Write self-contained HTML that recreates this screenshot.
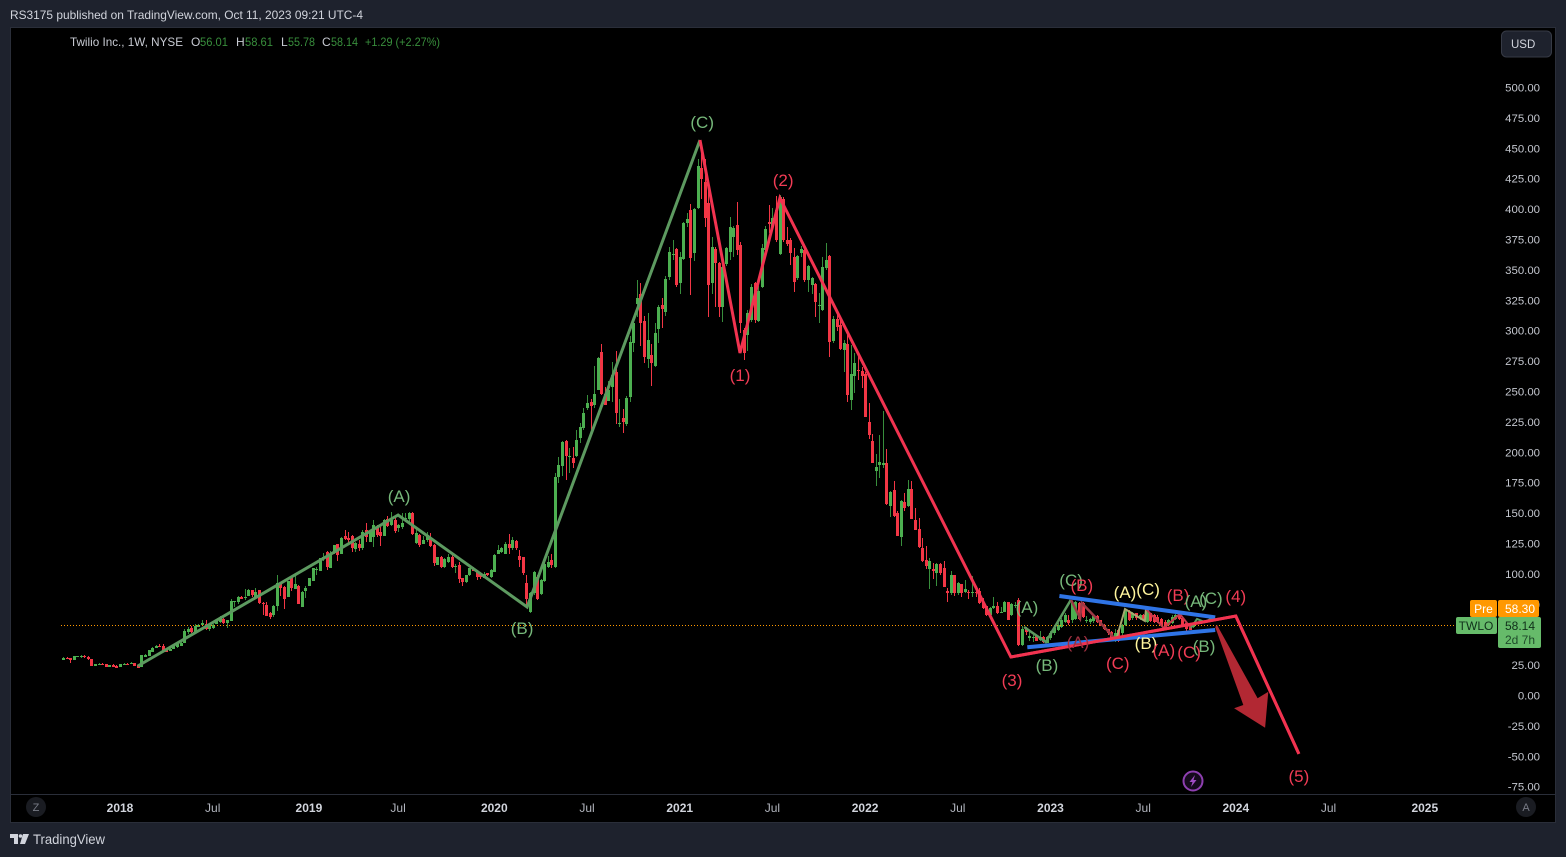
<!DOCTYPE html>
<html lang="en">
<head>
<meta charset="utf-8">
<title>Twilio Inc. 1W chart</title>
<style>
html,body{margin:0;padding:0;background:#1e222d;}
svg{display:block;font-family:"Liberation Sans",sans-serif;}
</style>
</head>
<body>
<svg id="chart" xmlns="http://www.w3.org/2000/svg" width="1566" height="857" viewBox="0 0 1566 857">
  <rect x="0" y="0" width="1566" height="857" fill="#1e222d"/>
  <text x="10" y="19" font-size="12" fill="#d1d4dc" textLength="353" lengthAdjust="spacingAndGlyphs">RS3175 published on TradingView.com, Oct 11, 2023 09:21 UTC-4</text>
  <rect x="10.5" y="27.5" width="1545" height="795" fill="#000000" stroke="#2a2e39" stroke-width="1"/>
  <line x1="11" y1="794.5" x2="1555" y2="794.5" stroke="#2a2e39" stroke-width="1"/>
  <g id="ticksY"></g>
  <g id="ticksX"></g>
  <g id="candlesLayer"></g>
  <g id="priceLineLayer"></g>
  <g id="wavesLayer"></g>
  <g id="labelsLayer"></g>

  <g font-size="12">
    <text x="70" y="46" fill="#c8cbd3" textLength="113" lengthAdjust="spacingAndGlyphs">Twilio Inc., 1W, NYSE</text>
    <text x="191" y="46" fill="#c8cbd3">O</text>
    <text x="200" y="46" fill="#388e3c" textLength="28" lengthAdjust="spacingAndGlyphs">56.01</text>
    <text x="236" y="46" fill="#c8cbd3">H</text>
    <text x="245" y="46" fill="#388e3c" textLength="28" lengthAdjust="spacingAndGlyphs">58.61</text>
    <text x="281" y="46" fill="#c8cbd3">L</text>
    <text x="288" y="46" fill="#388e3c" textLength="27" lengthAdjust="spacingAndGlyphs">55.78</text>
    <text x="322" y="46" fill="#c8cbd3">C</text>
    <text x="331" y="46" fill="#388e3c" textLength="27" lengthAdjust="spacingAndGlyphs">58.14</text>
    <text x="365" y="46" fill="#388e3c" textLength="75" lengthAdjust="spacingAndGlyphs">+1.29 (+2.27%)</text>
  </g>

  <g>
    <rect x="1501.5" y="31" width="50" height="26" rx="5" fill="#1e222d" stroke="#363a45"/>
    <text x="1511" y="48" font-size="11.5" fill="#d1d4dc">USD</text>
  </g>

  <g font-size="12">
    <rect x="1470" y="600" width="27" height="17" rx="2" fill="#ff9800"/>
    <text x="1483.5" y="613" fill="#ffffff" text-anchor="middle">Pre</text>
    <rect x="1498" y="600" width="41" height="17" rx="2" fill="#ff9800"/>
    <text x="1520" y="613" fill="#ffffff" text-anchor="middle">58.30</text>
    <rect x="1456" y="617" width="41" height="17" rx="2" fill="#66bb6a"/>
    <text x="1476" y="630" fill="#10301a" text-anchor="middle">TWLO</text>
    <rect x="1498" y="617" width="43" height="31" rx="2" fill="#66bb6a"/>
    <text x="1520" y="630" fill="#10301a" text-anchor="middle">58.14</text>
    <text x="1520" y="644" fill="#1f4a2a" text-anchor="middle">2d 7h</text>
  </g>

  <g>
    <circle cx="1193" cy="781" r="9.5" fill="#150a1c" stroke="#8e3fb0" stroke-width="2"/>
    <path d="M1195 775 L1189.5 782 L1192.5 782 L1191 787 L1196.5 780 L1193.5 780 Z" fill="#a04cc4"/>
  </g>

  <g>
    <circle cx="36" cy="807" r="10" fill="#1a1c22"/>
    <text x="36" y="811" font-size="11" fill="#787b86" text-anchor="middle">Z</text>
  </g>
  <g>
    <circle cx="1526" cy="807" r="10" fill="#1a1c22"/>
    <text x="1526" y="811" font-size="11" fill="#787b86" text-anchor="middle">A</text>
  </g>

  <g>
    <path d="M10 834 H18 V844 H14 V838 H10 Z M23 834 H29 L25 844 H20 Z" fill="#d1d4dc"/>
    <circle cx="20.5" cy="836" r="1.8" fill="#d1d4dc"/>
    <text x="33" y="844" font-size="13.5" fill="#d1d4dc" textLength="72" lengthAdjust="spacingAndGlyphs">TradingView</text>
  </g>
</svg>

<script>
// ---------- chart data (weekly OHLC) ----------
const firstWeek = -16;
const opens = [
29.6,31.2,30.6,29.6,32.1,32,32.8,32,30,24.3,
25.5,26.3,26,23.8,25.2,24.6,23.8,25.7,26.3,25.7,
26.5,25.2,23.8,32,32.8,35.9,39.4,40.8,40.8,38.3,
37,38.6,40.2,41,43.5,52.3,55.9,52.6,56.7,57.8,
58.6,55,55.3,58.9,60.8,63,60,61.6,77,77.2,
81,81,81.9,86.8,80.5,86.8,76.1,74.2,67.6,66.3,
73.9,91.8,89.6,81.3,97.2,87.9,90.1,73.1,86.3,90.4,
94.5,103.5,102.7,112,117.8,105.2,117,124.4,116.7,131.2,
129.3,131.2,120.5,125,121,136.1,126.5,130.6,138.8,134.7,
131.4,145.1,140.2,144.3,138,138.3,145,144.9,149.8,125.1,
132,125,127.9,129.2,123.8,107.6,114.2,105.4,110,113.6,
106.3,107.3,96.4,93.6,99.1,104.9,102.4,100.5,96.9,100.5,
97.7,101.8,116.4,117.7,116.4,124.6,121,127,114.7,113.6,
92.8,68.4,84,97.2,83.5,94.5,105.4,111.4,106,179.5,
189.1,209.4,196.5,195.7,197.3,212.1,220.3,236.8,241.7,238.9,
251.3,282.2,248,242.5,254,265.8,223.4,228.3,223.3,245.8,
289.6,322,330.2,308,276.8,280,271.3,301.4,321,315.7,
344.4,362.5,367.5,339,359,388.3,399.2,363.6,401.2,433.5,
422.5,404.7,339,366.9,355.4,319.8,354.9,365,377.3,386.9,
370.5,300.6,296.5,308.8,339,308.3,336.2,366.4,389.1,385.5,
399.2,363,408,375,374.6,360.9,343,364.2,366.4,341.7,
337.6,338.4,320.3,317,351.3,361.4,291.8,309.4,304.7,284.2,
289.1,243,263,267.7,267,264.4,224.7,209.4,185,189.6,
189.6,191.5,156.2,169,149.9,130.7,159.5,156.2,169.6,144.4,
137,121.7,111.5,104,103.9,100.6,108,105.2,86,84.1,
99.2,84.1,91.8,85.5,85,84.1,85.5,86.3,76,73.2,
66.3,71.8,73.2,68.5,69,76.7,65.8,73.2,78.5,41.5,
55,47,47.3,49,45.7,48.4,43.5,47,51.1,54,
56.6,60.7,62.1,62,62.6,76,75.8,62,60.7,61.3,
65.4,62,58,54.4,52.5,44.8,54,51.1,58,69,
63.5,67.6,63.5,66,60.7,67.6,66.2,64.8,62.6,60.7,
58,59.3,62.6,67,63.4,59.3,58,56.01];
const closes = [
31.2,30.4,29,32.6,32.3,32.4,31.5,29.8,24.3,26,
26.3,25.5,23.8,25.2,23.8,23,25.7,26.3,25.7,26.8,
24.6,23,33.1,33.4,37.5,39.1,41,40,36.1,36.1,
38.3,40.8,42.4,43.5,53.1,54.8,52.3,57.2,58,59.7,
54.5,57.8,58,61,63.8,59.4,61.9,77.8,77.8,80.8,
79.4,81.3,86.8,82.4,85.4,76.1,75.6,65.7,64.9,73.9,
92.3,88.7,79.7,94.2,88.5,91.8,75.3,85.4,88.2,96.4,
104.6,104,112.8,114.2,105.7,116.1,123.8,115.9,129.6,128.5,
127.9,121,125.1,121,134.7,130.6,135.3,140.2,132,131.4,
144.3,139.7,144.3,135.6,140.2,141.6,146,149.8,132.8,133.4,
123.8,127.9,132,123,109.2,113.6,105.4,112.3,114.2,105.4,
106.7,95.8,93,99.1,104.6,102.4,97.7,97.2,99.6,99.1,
103.2,115.6,119.7,121,124.6,121,127.9,121,111.4,101,
79.1,84,101.8,79.4,95,108.2,110,107.3,180,189.6,
208.3,197.3,197,191.5,210.2,221.1,232.1,240.3,238.1,247.7,
277.3,248,238.9,251.3,263.6,232.1,224,224.7,244.4,290.5,
306,326.6,306,278.1,292.4,273.7,297.9,319.2,318,342.5,
364.4,363,337.6,360.9,388.3,391.8,359.5,400,435.4,424.7,
392.4,337.6,368.6,355.4,319.2,352,367.7,385,384.2,366.4,
306.6,281.4,314.3,335.7,308.8,332.7,367.7,383.6,388,392.4,
374.6,409.6,374.6,371.3,363.6,340.3,361.4,366.9,341.7,353.2,
343,323.9,320.8,352.7,358,291,310,303.3,284.7,289.6,
247.2,264.4,273.2,267,263,229.4,214.3,191.5,187.7,191.8,
191.5,157.6,167.2,147.7,131.3,160,154,169.6,145.2,136.2,
122,110.7,106.6,110.7,102.5,108,100.6,89.6,84.1,99.2,
84.1,92.4,84.1,87.7,84.1,85,84,76,71.8,66.3,
71.8,73.7,67.7,68.8,76.7,62.2,75.4,74.6,41.5,54.7,
52,49,47.7,45,48.4,44.3,48.4,51.1,55.2,58,
62.1,66.2,59.4,75.8,77,62.6,64.8,62.5,62.6,65.4,
60.7,58,54.4,51.1,47,51.1,44.8,58,69.8,62.1,
67.6,63.5,66.2,62,70.3,61.6,60.7,60.7,58,56.6,
62,64.3,66.2,62.6,58,54.7,54,58.14];
const highs = [
32,31.5,30.8,32.8,32.6,33.6,33.4,32.5,30.2,26.3,
26.8,27,26.2,25.4,26.2,25.4,26,27,26.8,27.8,
26.7,25.4,33.4,34,37.8,39.5,41.6,42.4,42.4,39,
38.8,41.2,43,44,55,56,57,58.5,59,62,
62,58.5,59,62,65.5,64,62.5,79.5,78,82,
81.5,87.6,87.5,87,88.2,87,77,76.5,69,74.3,
99.1,92,90,94.5,97.6,100.5,90.5,85.8,90,97,
105,106,113,117,118.5,119,124,125,130,136.1,
134.5,132,126,128,136,142,136,144,140,138.8,
145,148,150.6,146,141,150,150,150.5,150.5,137,
133,131,134.7,133.4,124.5,114,114.5,113,116,117.5,
108,110,97,99.5,105,105.5,103,101,101.8,101,
104,116,123.8,122.4,126.5,132.8,130,128,119.7,114,
99.1,85,102,99.1,96,109,115,116.4,183,196.5,
209,210,203.3,204.7,218.4,223.9,236.2,247.2,243.9,271,
278,289,253.5,259,274,283.3,243.6,235.4,246,295.7,
307,341.7,339,312,314.3,288.8,306.6,321,326.6,345,
369,374.6,368,365,389,396.5,404,401,440.9,445,
441,415.7,377.3,369,356.8,360.9,369,393.8,386,406,
373.2,302,317,338,340,337,371,386,403.4,400.6,
411,411.6,410,385.5,376,367.7,362,370,367,354,
344,339,330.7,360.9,372,362,312,317,311.6,292,
296.5,288,281.4,280,270.5,266,240.9,215,198.7,214.3,
234,202.8,168,176.8,152,161,166.3,177.3,176,154,
145.8,129.3,123,113,109.3,109,108.8,110.7,88.3,102,
99.5,93,92,95,87,98.4,90,88.2,80,74,
72.5,80.8,77,73,78,77,76,77,80,57,
56,52,50,50,53,49,49,53,57,60,
64,68,66,78,78,76.5,77,65,64,67,
66,62.5,59,55,53,55,55,59,71,70,
69,68,67,67,72,68,67,66,64,62,
63,66,67,69,64,60,58.5,58.61];
const lows = [
29,30,27.1,29.4,31.9,31.2,31,29.6,24.2,24.1,
25.2,25,23.6,23.6,23.4,22.8,23.6,25.5,25.4,25.5,
24.4,22.6,23.6,31.8,32.6,35.6,39.2,39.8,35.6,35.4,
36.6,38.4,39.2,40.8,43.2,50.5,51.5,51,56.3,57.5,
54,53.4,55,58.5,60,59,55.8,61,73.1,75.5,
79,78.6,81.5,81,80,75.6,66.3,65.5,62.7,64.3,
69.8,81.9,71.2,81,86.3,87.5,75,72.8,80.5,90,
94,99.1,102,111,103,104.8,116.5,110.9,116,128,
123.8,118.3,118,119,120,126.5,126,122.4,130,123.2,
131,138.8,139.7,133.9,134.7,137,143,143,132,124.5,
122.4,124.5,126,122.5,106.5,107,104.5,104.5,109,104.5,
100.5,92.3,90,92.5,98.5,102,95,95.8,96.5,98.5,
96.5,101.5,116,117,116,116.4,120,120,105.4,99.1,
73.6,68,83,78.8,83,93,104.8,104.6,105,175,
180.9,177,182.8,186.9,196,207.4,218,235,214.3,236.2,
251,247,238.5,242,241,223.3,221,216.2,222,241.7,
282.8,311.6,287.7,273.2,269.6,254.6,270,289.6,302,312,
342,358,336,330,358,385,329.4,357,400,408,
385,311.6,330,319.8,311,306.9,353,358,361,362,
298,276,283,307,306,307,335,365,380,383,
373,362,373,370,354,332,342,361,340,332,
330,311.6,306.6,316,350,278.7,290,300,284,266,
241.7,235,249,259.5,252.6,229,210.7,191,172.4,179.2,
187,157,147.2,147,131,123,152,155,145,136,
121,110,104,87.7,96,90.2,99,89,77.3,83,
82,83,80.6,84,79.2,81.4,80.6,75.5,71,65.5,
66,71,67,67.5,68.5,62,65.5,72,41,40.5,
50,45,44,44.5,44.5,43.5,43,46,50,53,
55.5,60,58,60,62,62,64,60,59,60,
60,57,54,50,46.5,44,44,50,57,61,
62.5,62.5,62.5,61,60,60.5,60,60,57,55.5,
57,58.5,62,62,57,53,53.5,55.78];

const priceTicks = [500,475,450,425,400,375,350,325,300,275,250,225,200,175,150,125,100,75,50,25,0,-25,-50,-75];
const timeTickLabels = ["2018","Jul","2019","Jul","2020","Jul","2021","Jul","2022","Jul","2023","Jul","2024","Jul","2025"];
const timeTickWeeks = [0,26,53,78,105,131,157,183,209,235,261,287,313,339,366];
const prePrice = 58.30;

// wave drawings as [week, price] anchors
const greenWave = [[5,24.3],[78,148.4],[114.2,72.8],[162.7,456.8]];
const redWave = [[162.7,456.8],[173.9,281.7],[185.1,409.1],[249.9,31.7],[313,65.4],[330.7,-48]];
const blueUpper = [[263.5,81.8],[307.2,64.3]];
const blueLower = [[254.5,39.6],[307.2,53.9]];
const smallGreenA = [[253.6,56.3],[259.7,44],[266.7,78.5]];
const smallRedA = [[266.8,78.5],[269.3,63.7],[269.8,76.1],[273.5,64.6],[279.4,45.6]];
const smallYellow = [[279.4,45.6],[281.9,71.1],[287.5,61.3],[287.8,71.1]];
const smallRedB = [[287.8,71.1],[292.8,55.5],[297.3,67],[300.4,55.5]];
const smallGreenB = [[300.4,55.5],[302.1,62.9],[304.3,60.4],[306.9,64.6]];
const arrowAnchors = [[307.7,58],[319.1,-2.3],[322.1,3.1],[321.2,-26.5],[312.5,-10.5],[315.1,-7.8],[307.2,56.3]];

// wave labels
const labelTexts = ["(A)","(B)","(C)","(1)","(2)","(3)","(A)","(B)","(C)","(B)","(A)","(C)","(A)","(C)","(B)","(A)","(B)","(C)","(A)","(C)","(B)","(4)","(5)"];
const labelWeeks = [78.3,112.8,163.3,173.9,186,250.2,254.4,260,266.8,269.8,268.7,279.9,281.9,288.4,287.8,292.8,296.8,299.9,301.8,306,304.1,313,330.7];
const labelPrices = [164.1,55.5,471.6,263.6,423.9,12.7,72.8,25.1,95,90.9,44,26.7,85.1,87.6,43.2,37.4,82.7,35.8,77.7,80.2,40.7,81.8,-66.2];
const labelKinds = ["g","g","g","r","r","r","g","g","g","r","d","r","y","y","y","r","r","r","g","g","g","r","r"];

// ---------- axis functions ----------
const NS = "http://www.w3.org/2000/svg";
function xOf(week){ return 120 + 3.565 * week; }
function yOf(price){ return 695.5 - 1.216 * price; }
function mk(tag, parent, attrs){
  const el = document.createElementNS(NS, tag);
  for (const k in attrs) el.setAttribute(k, attrs[k]);
  parent.appendChild(el);
  return el;
}
function pts(list){ return list.map(p => xOf(p[0]).toFixed(1) + "," + yOf(p[1]).toFixed(1)).join(" "); }

// price axis
const gy = document.getElementById("ticksY");
priceTicks.forEach(v => {
  const t = mk("text", gy, {x:1540, y:(yOf(v)+4).toFixed(1), "font-size":11.4, fill:"#c4c7cf", "text-anchor":"end"});
  
  
  t.textContent = v.toFixed(2);
});

// time axis
const gx = document.getElementById("ticksX");
timeTickLabels.forEach((lab, i) => {
  const isYear = lab !== "Jul";
  const t = mk("text", gx, {x:xOf(timeTickWeeks[i]).toFixed(1), y:812, "font-size":12, fill:isYear?"#d1d4dc":"#b2b5be", "font-weight":isYear?"bold":"normal", "text-anchor":"middle"});
  
  
  t.textContent = lab;
});

// candles
const gc = document.getElementById("candlesLayer");
opens.forEach((o, i) => {
  const c = closes[i], up = c >= o;
  const cx = Math.round(xOf(firstWeek + i));
  const wickCol = up ? "#388e3c" : "#f23645";
  const bodyCol = up ? "#4caf50" : "#f23645";
  const yh = Math.round(yOf(highs[i])), yl = Math.round(yOf(lows[i]));
  const yt = Math.round(yOf(Math.max(o, c))), yb = Math.round(yOf(Math.min(o, c)));
  const wick = mk("rect", gc, {x:cx, y:yh, width:1, height:Math.max(1, yl - yh), fill:wickCol});
  
  
  const body = mk("rect", gc, {x:cx - 1, y:yt, width:3, height:Math.max(1, yb - yt), fill:bodyCol});
  
  
});

// pre-market price line
const gp = document.getElementById("priceLineLayer");
const pl = mk("line", gp, {x1:61, x2:1456, y1:Math.round(yOf(prePrice)) + 0.5, y2:Math.round(yOf(prePrice)) + 0.5, stroke:"#ff9800", "stroke-width":1, "stroke-dasharray":"1 2"});



// waves
const gw = document.getElementById("wavesLayer");
const w1 = mk("polyline", gw, {points:pts(greenWave), fill:"none", stroke:"#5d9a60", "stroke-width":3, "stroke-linejoin":"miter"});


const w2 = mk("polyline", gw, {points:pts(redWave), fill:"none", stroke:"#f23350", "stroke-width":3, "stroke-linejoin":"miter"});


const w3 = mk("polyline", gw, {points:pts(smallGreenA), fill:"none", stroke:"#5d9a60", "stroke-width":2.5});


const w4 = mk("polyline", gw, {points:pts(smallRedA), fill:"none", stroke:"#9c3a45", "stroke-width":2.5});


const w5 = mk("polyline", gw, {points:pts(smallYellow), fill:"none", stroke:"#a8a870", "stroke-width":2});


const w6 = mk("polyline", gw, {points:pts(smallRedB), fill:"none", stroke:"#c43a4c", "stroke-width":2});


const w7 = mk("polyline", gw, {points:pts(smallGreenB), fill:"none", stroke:"#5d9a60", "stroke-width":2});


const b1 = mk("polyline", gw, {points:pts(blueUpper), fill:"none", stroke:"#2f74e6", "stroke-width":4});


const b2 = mk("polyline", gw, {points:pts(blueLower), fill:"none", stroke:"#2f74e6", "stroke-width":4});


const ar = mk("polygon", gw, {points:pts(arrowAnchors), fill:"#b22833"});


// redraw the red leg over the trendlines near the (4) corner
const w2b = mk("polyline", gw, {points:pts(redWave.slice(3)), fill:"none", stroke:"#f23350", "stroke-width":3});



// labels
const kindColors = {g:"#76b87a", r:"#f23c55", y:"#fff59d", d:"#a03040"};
const gl = document.getElementById("labelsLayer");
labelTexts.forEach((txt, i) => {
  const t = mk("text", gl, {x:xOf(labelWeeks[i]).toFixed(1), y:(yOf(labelPrices[i]) + 6).toFixed(1), "font-size":17, fill:kindColors[labelKinds[i]], "text-anchor":"middle"});
  
  
  t.textContent = txt;
});
</script>
</body>
</html>
